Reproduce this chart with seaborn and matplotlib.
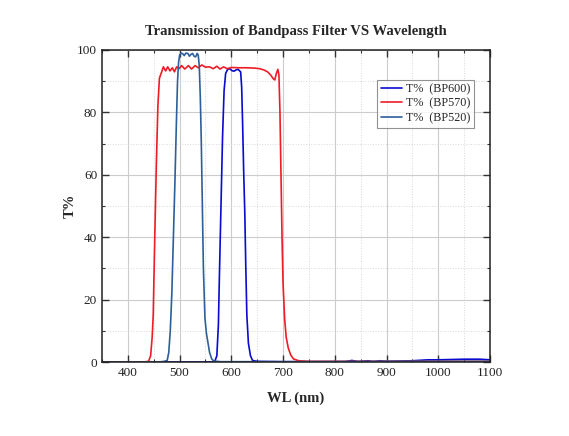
import numpy as np
import pandas as pd
import matplotlib
matplotlib.use("Agg")
import matplotlib.pyplot as plt
from matplotlib.ticker import MultipleLocator
import seaborn as sns

# ---- data ----
wl_bp570 = [350, 400, 430, 440, 444, 447, 449, 452, 455, 458, 461, 465.4, 468.6, 473, 477, 481.4,
            486, 490, 494.3, 499, 504, 510, 517, 523, 530, 536, 543, 550, 558, 565, 572, 578,
            585, 592, 600, 615, 630, 645, 655, 663, 670, 676, 681, 684, 687, 690, 692, 694,
            696, 698, 700, 703, 706, 710, 715, 720, 730, 750, 800, 900, 1000, 1100]
t_bp570 = [0, 0, 0, 0.2, 2, 8, 15, 40, 63, 82, 91, 93.0, 94.6, 93.3, 94.6, 93.3,
           94.3, 93.0, 94.6, 94.0, 95.0, 93.9, 95.0, 93.9, 95.0, 94.3, 95.2, 94.5, 94.6, 94.0, 94.8, 93.9,
           94.6, 94.0, 94.4, 94.3, 94.3, 94.2, 94.0, 93.6, 93.0, 92.0, 90.8, 90.4, 92.5, 93.8, 92.0, 80,
           60, 40, 25, 14, 8, 4.5, 2.2, 1.0, 0.4, 0.2, 0.2, 0.2, 0.2, 0.2]

wl_bp520 = [350, 460, 470, 476, 479, 482, 485, 488, 491, 494, 496, 498, 500, 503, 506, 509, 512,
            516, 519, 522, 525, 528, 531, 534, 536, 538, 540, 542, 544, 546, 549, 552, 555,
            558, 562, 566, 580, 700, 900, 1100]
t_bp520 = [0, 0, 0.2, 0.5, 3, 10, 22, 40, 58, 78, 90, 96, 98.4, 99.0, 98.8, 98.2, 99.0,
           98.9, 98.0, 98.6, 98.9, 98.0, 97.8, 98.9, 98.4, 95, 85, 70, 50, 30, 14, 9, 6,
           3, 1, 0.3, 0.1, 0.1, 0.2, 0.2]

wl_bp600 = [350, 560, 568, 572, 575, 577, 580, 583, 586, 589, 593, 597, 601, 605, 609, 613,
            616, 618, 620, 622, 624, 626, 628, 630, 633, 637, 641, 650, 700, 820, 833, 845,
            864, 875, 887, 900, 950, 980, 1000, 1050, 1080, 1100]
t_bp600 = [0, 0, 0.2, 2, 12, 28, 50, 72, 87, 92.5, 93.8, 94.0, 93.4, 93.2, 93.6, 93.8,
           93.3, 93.0, 88, 75, 60, 48, 30, 15, 6, 2, 0.5, 0.2, 0.1, 0.1, 0.5, 0.1,
           0.4, 0.1, 0.4, 0.2, 0.4, 0.7, 0.7, 0.9, 0.9, 0.7]

series_names = ["T%  (BP600)", "T%  (BP570)", "T%  (BP520)"]
series_colors = ["#0A0AD0", "#EE1C24", "#2F5F9A"]
x_ticks = [400, 500, 600, 700, 800, 900, 1000, 1100]
y_ticks = [0, 20, 40, 60, 80, 100]

frames = []
for name, wl, t in zip(series_names, [wl_bp600, wl_bp570, wl_bp520], [t_bp600, t_bp570, t_bp520]):
    frames.append(pd.DataFrame({"wl": wl, "T": t, "series": name}))
df = pd.concat(frames, ignore_index=True)

sns.set_style("ticks")
plt.rcParams["font.family"] = ["Liberation Serif", "DejaVu Serif"]
plt.rcParams["mathtext.fontset"] = "stix"

fig = plt.figure(figsize=(5.69, 4.36), dpi=100)
ax = fig.add_axes([102 / 569, 1 - 362 / 436, 388 / 569, 312 / 436])

sns.lineplot(data=df, x="wl", y="T", hue="series", hue_order=series_names,
             palette=dict(zip(series_names, series_colors)), linewidth=1.2,
             ax=ax, sort=False, estimator=None)

ax.set_xlim(350, 1100)
ax.set_ylim(0, 100)
ax.set_xticks(x_ticks)
ax.set_yticks(y_ticks)
ax.xaxis.set_minor_locator(MultipleLocator(50))
ax.yaxis.set_minor_locator(MultipleLocator(10))
ax.grid(which="major", color="#cccccc", linewidth=0.8, linestyle="-")
ax.grid(which="minor", color="#d8d8d8", linewidth=0.7, linestyle=":")
ax.set_axisbelow(True)
ax.tick_params(which="both", direction="in", top=True, right=True, labelsize=9.5, colors="#333333",
               labelcolor="#222222")
ax.tick_params(which="major", length=5, width=1.0)
ax.tick_params(which="minor", length=2.5, width=0.8)
for s in ax.spines.values():
    s.set_color("#222222")
    s.set_linewidth(1.1)

ax.set_xlabel("WL (nm)", fontsize=10.5, fontweight="bold", labelpad=9)
ax.set_ylabel("T%", fontsize=10.5, fontweight="bold", labelpad=0)
ax.set_title("Transmission of Bandpass Filter VS Wavelength", fontsize=10.5, fontweight="bold", pad=11)

leg = ax.legend(loc="upper left", bbox_to_anchor=(0.71, 0.905), fontsize=8.7, frameon=True,
                fancybox=False, edgecolor="#777777", handlelength=1.7, handletextpad=0.4,
                borderpad=0.3, labelspacing=0.2, borderaxespad=0)
leg.get_frame().set_linewidth(0.8)

fig.savefig("out.png", dpi=100)
